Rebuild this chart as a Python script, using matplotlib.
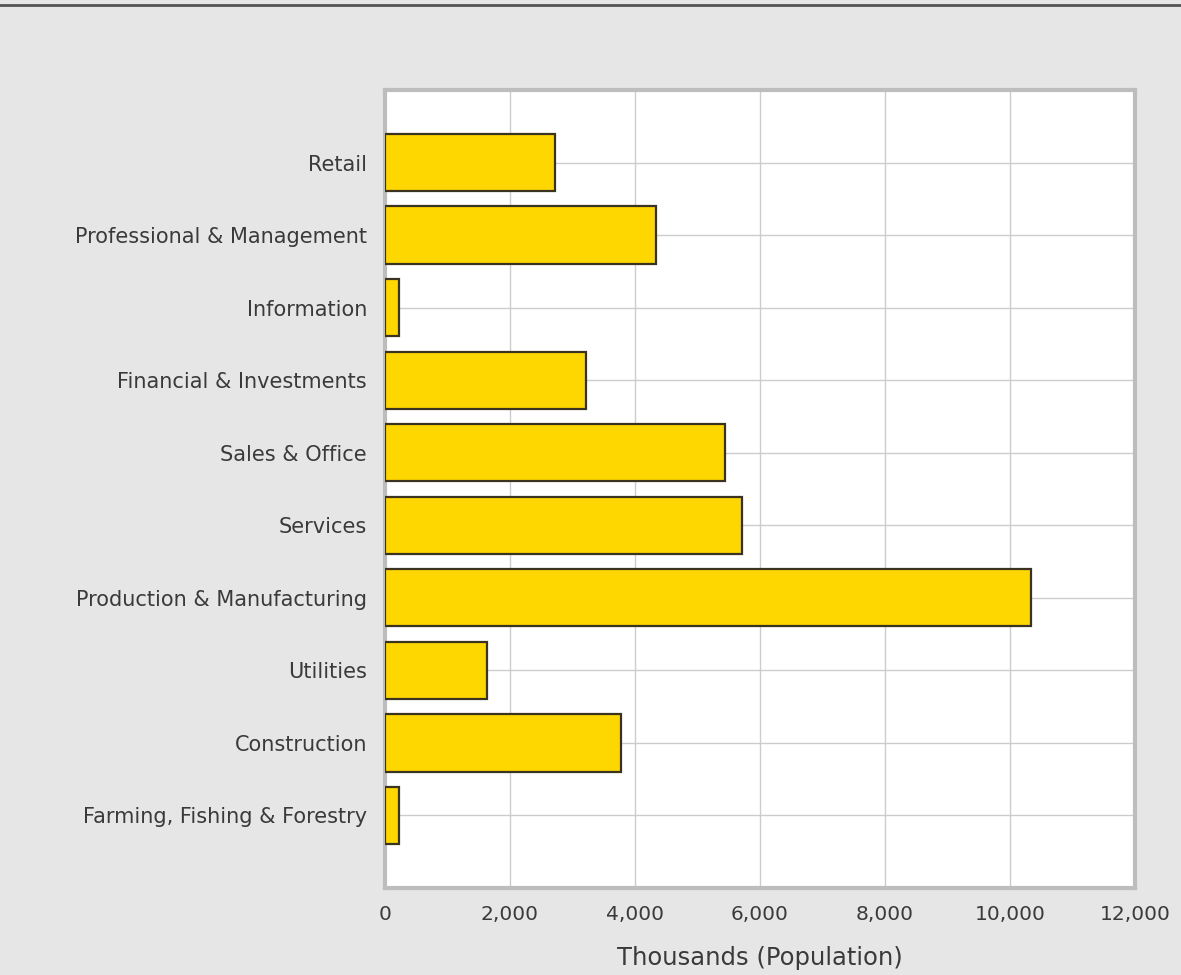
#!/usr/bin/env python3

import matplotlib
matplotlib.use('Agg')
import matplotlib.pyplot as plt
from matplotlib.lines import Line2D
from matplotlib.ticker import FuncFormatter

## Data (thousands of people)
categories = ['Retail', 'Professional & Management', 'Information',
              'Financial & Investments', 'Sales & Office', 'Services',
              'Production & Manufacturing', 'Utilities', 'Construction',
              'Farming, Fishing & Forestry']
values = [2720, 4330, 230, 3220, 5440, 5710, 10340, 1630, 3770, 220]
xticks = [0, 2000, 4000, 6000, 8000, 10000, 12000]

bg = '#e6e6e6'
text_col = '#3a3a3a'

fig = plt.figure(figsize=(11.81, 9.75), dpi=100, facecolor=bg)
ax = fig.add_axes([0.326, 0.0892, 0.635, 0.8185])
ax.set_facecolor('white')

pos = list(range(len(categories)))
ax.barh(pos, values, height=0.79, color='#ffd700', edgecolor='#3a3320',
        linewidth=1.6, zorder=3)

ax.set_ylim(len(categories), -1)
ax.set_xlim(0, 12000)
ax.set_yticks(pos)
ax.set_yticklabels(categories, fontsize=15)
ax.set_xticks(xticks)
ax.xaxis.set_major_formatter(FuncFormatter(lambda v, p: '{:,}'.format(int(v))))

ax.grid(True, color='#cccccc', linewidth=1.0, zorder=0)
ax.set_axisbelow(True)
ax.tick_params(length=0, labelcolor=text_col)
ax.tick_params(axis='x', pad=12, labelsize=14.5)
ax.tick_params(axis='y', pad=13)

for s in ax.spines.values():
  s.set_color('#bdbdbd')
  s.set_linewidth(3)

ax.set_xlabel('Thousands (Population)', fontsize=17.5, color=text_col, labelpad=16)

# dark rule at the very top
fig.add_artist(Line2D([0, 1], [0.995, 0.995], transform=fig.transFigure,
                      color='#555555', linewidth=2))

fig.savefig('out.png', dpi=100, facecolor=bg)
